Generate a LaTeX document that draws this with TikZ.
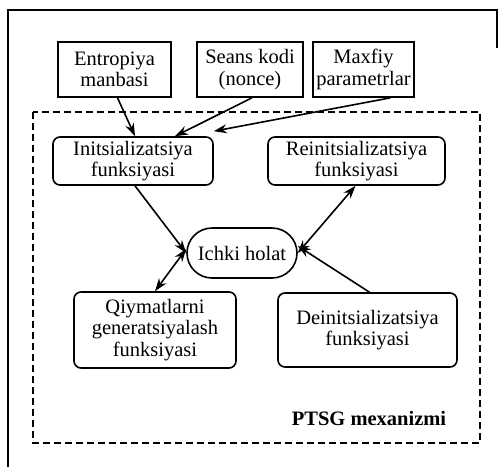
\documentclass[tikz,border=0pt]{standalone}
\usepackage{fontspec}
\setmainfont{Liberation Serif}
\usetikzlibrary{arrows.meta}
\begin{document}
\begin{tikzpicture}[x=1pt,y=-1pt,
  inbox/.style={draw,line width=1.6pt,align=center,font=\fontsize{20.5}{21.5}\selectfont,inner sep=0pt},
  fbox/.style={draw,line width=1.6pt,rounded corners=7pt,align=center,font=\fontsize{20.5}{21.5}\selectfont,inner sep=0pt},
  arr/.style={line width=1.6pt,-{Stealth[length=13pt,width=9pt]}},
  darr/.style={line width=1.6pt,{Stealth[length=13pt,width=9pt]}-{Stealth[length=13pt,width=9pt]}}]
\useasboundingbox (0,0) rectangle (498,467);
% outer frame (partial, as scanned)
\draw[line width=1.5pt] (8,467) -- (8,10) -- (497,10) -- (497,48);
% dashed mechanism boundary
\draw[line width=1.5pt,dashed,dash pattern=on 7pt off 4pt] (33,112) rectangle (480,443);
% inputs
\node[inbox,minimum width=113pt,minimum height=55pt] (ent) at (114.5,69.5) {Entropiya\\manbasi};
\node[inbox,minimum width=106pt,minimum height=55pt] (sea) at (250,69.5) {Seans kodi\\(nonce)};
\node[inbox,minimum width=101pt,minimum height=55pt] (max) at (363.5,69.5) {Maxfiy\\parametrlar};
% functions
\node[fbox,minimum width=160pt,minimum height=48pt] (init) at (133,161) {Initsializatsiya\\funksiyasi};
\node[fbox,minimum width=177pt,minimum height=48pt] (reinit) at (356.5,161) {Reinitsializatsiya\\funksiyasi};
\node[fbox,rounded corners=25pt,minimum width=110pt,minimum height=50pt] (ichki) at (242,253) {Ichki holat};
\node[fbox,minimum width=162pt,minimum height=76pt] (qiy) at (155,330) {Qiymatlarni\\generatsiyalash\\funksiyasi};
\node[fbox,minimum width=179pt,minimum height=74pt] (dein) at (367.5,330) {Deinitsializatsiya\\funksiyasi};
\node[font=\bfseries\fontsize{20.5}{21.5}\selectfont] (ptsg) at (369,418) {PTSG mexanizmi};
% connectors
\draw[arr] ([xshift=3pt]ent.south) -- ([xshift=2pt]init.north);
\draw[arr] ([xshift=2pt]sea.south) -- ([xshift=42pt]init.north);
\draw[arr] ([xshift=27pt]max.south) -- ([yshift=5pt]init.north east);
\draw[arr] ([xshift=2pt]init.south) -- (ichki.west);
\draw[darr] ([xshift=-1pt]reinit.south) -- (ichki.east);
\draw[darr] (qiy.north) -- ([yshift=4pt]ichki.west);
\draw[arr] ([xshift=2pt]dein.north) -- ([yshift=7pt]ichki.east);
\end{tikzpicture}
\end{document}
